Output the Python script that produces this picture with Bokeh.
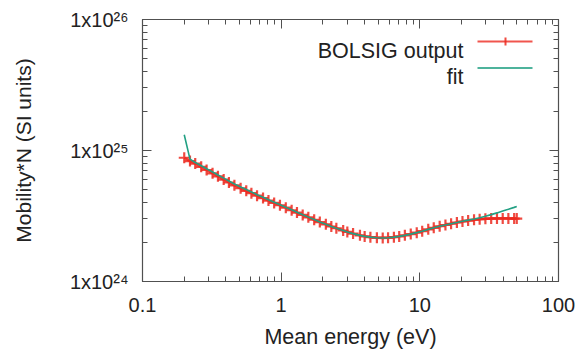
import numpy as np
from bokeh.plotting import figure
from bokeh.models import (Range1d, FixedTicker, LogAxis, CustomJSTickFormatter,
                          Label, BoxAnnotation)
from bokeh.embed import file_html
from bokeh.resources import INLINE

# Mean electron energy (eV)
energy_ev = [0.2, 0.22, 0.24, 0.265, 0.29, 0.32, 0.35, 0.385, 0.42, 0.46,
             0.51, 0.56, 0.61, 0.67, 0.74, 0.81, 0.89, 0.98, 1.08, 1.19,
             1.3, 1.43, 1.57, 1.73, 1.9, 2.1, 2.3, 2.5, 2.8, 3.0,
             3.3, 3.7, 4.0, 4.4, 4.9, 5.4, 5.9, 6.5, 7.1, 7.8,
             8.6, 9.5, 10.4, 11.5, 12.6, 13.9, 15.3, 16.8, 18.5, 20.3,
             22.3, 24.6, 27.0, 29.7, 32.7, 36.0, 39.6, 43.5, 47.9, 50.0]

# Reduced mobility from BOLSIG (units of 1e24, SI)
bolsig_mobility = [8.8, 8.3, 7.95, 7.5, 7.1, 6.7, 6.35, 6.0, 5.7, 5.42,
                   5.15, 4.92, 4.72, 4.52, 4.33, 4.15, 3.98, 3.82, 3.66, 3.5,
                   3.36, 3.22, 3.09, 2.96, 2.84, 2.73, 2.63, 2.55, 2.45, 2.39,
                   2.32, 2.25, 2.21, 2.18, 2.16, 2.15, 2.16, 2.18, 2.21, 2.25,
                   2.3, 2.36, 2.42, 2.5, 2.57, 2.64, 2.7, 2.76, 2.82, 2.87,
                   2.92, 2.96, 2.99, 3.01, 3.02, 3.03, 3.03, 3.03, 3.02, 3.02]

# Fitted mobility at the same energies (units of 1e24, SI)
fit_mobility = [13.2, 8.6, 8.1, 7.65, 7.25, 6.85, 6.5, 6.15, 5.85, 5.55,
                5.27, 5.03, 4.82, 4.6, 4.4, 4.21, 4.03, 3.86, 3.69, 3.53,
                3.38, 3.23, 3.1, 2.97, 2.85, 2.73, 2.63, 2.55, 2.45, 2.39,
                2.32, 2.25, 2.21, 2.18, 2.16, 2.15, 2.16, 2.18, 2.21, 2.25,
                2.3, 2.36, 2.42, 2.5, 2.57, 2.64, 2.7, 2.76, 2.82, 2.88,
                2.94, 3.0, 3.07, 3.15, 3.24, 3.34, 3.45, 3.56, 3.68, 3.74]

UNIT = 1e24
x_ticks = [0.1, 1, 10, 100]
y_ticks = [1e24, 1e25, 1e26]
x_minor = [m * 10.0 ** e for e in (-1, 0, 1) for m in range(2, 10)]
y_minor = [m * 10.0 ** e for e in (24, 25) for m in range(2, 10)]

FONT = "Liberation Sans"
RED = "#ec2a20"
TEAL = "#22a083"
FRAME = "#505050"
TEXT = "#222222"

p = figure(width=580, height=351, x_axis_type="log", y_axis_type="log",
           x_range=Range1d(0.1, 100), y_range=Range1d(1e24, 1e26),
           output_backend="svg", toolbar_location=None,
           min_border_left=142, min_border_right=22,
           min_border_top=19, min_border_bottom=69)
p.background_fill_color = "white"
p.border_fill_color = "white"
p.outline_line_color = FRAME
p.outline_line_width = 1.2
p.xgrid.visible = False
p.ygrid.visible = False

x = np.array(energy_ev)
y_bolsig = np.array(bolsig_mobility) * UNIT
y_fit = np.array(fit_mobility) * UNIT

p.line(x, y_bolsig, line_color=RED, line_width=2.5, line_alpha=0.9)
p.scatter(x, y_bolsig, marker="cross", size=11, line_color=RED, line_width=2.2,
          line_alpha=0.85)
p.line(x, y_fit, line_color=TEAL, line_width=1.6)


def style_axis(ax):
    ax.axis_line_color = FRAME
    ax.major_tick_line_color = FRAME
    ax.minor_tick_line_color = FRAME
    ax.major_tick_in = 9
    ax.major_tick_out = 0
    ax.minor_tick_in = 5
    ax.minor_tick_out = 0
    ax.major_label_text_font = FONT
    ax.major_label_text_font_size = "20px"
    ax.major_label_text_color = TEXT
    ax.axis_label_text_font = FONT
    ax.axis_label_text_font_size = "21.5px"
    ax.axis_label_text_font_style = "normal"
    ax.axis_label_text_color = TEXT


xax = p.xaxis[0]
xax.ticker = FixedTicker(ticks=x_ticks, minor_ticks=x_minor)
xax.formatter = CustomJSTickFormatter(code="return String(tick);")
xax.axis_label = "Mean energy (eV)"
style_axis(xax)
xax.major_label_standoff = 16
xax.axis_label_standoff = 10

yax = p.yaxis[0]
yax.ticker = FixedTicker(ticks=y_ticks, minor_ticks=y_minor)
yax.formatter = CustomJSTickFormatter(code="""
const sup = {"-": "\u207b", "0": "\u2070", "1": "\u00b9", "2": "\u00b2", "3": "\u00b3",
             "4": "\u2074", "5": "\u2075", "6": "\u2076", "7": "\u2077", "8": "\u2078", "9": "\u2079"};
const e = Math.round(Math.log10(tick));
return "1x10" + String(e).split("").map(c => sup[c]).join("");
""")
yax.axis_label = "Mobility*N (SI units)"
style_axis(yax)
yax.axis_label_text_font_size = "21px"
yax.major_label_standoff = 14
yax.axis_label_standoff = 32

# mirrored ticks on the top and right edges
blank = CustomJSTickFormatter(code="return '';")
top = LogAxis(ticker=FixedTicker(ticks=x_ticks, minor_ticks=x_minor), formatter=blank)
right = LogAxis(ticker=FixedTicker(ticks=y_ticks, minor_ticks=y_minor), formatter=blank)
for ax in (top, right):
    style_axis(ax)
    ax.major_label_standoff = 0
    ax.major_label_text_font_size = "1px"
p.add_layout(top, "above")
p.add_layout(right, "right")

# key in the upper right corner: label, then line sample
key_right = 321
key_rows = [("BOLSIG output", RED, 231, 240), ("fit", TEAL, 205, 213.5)]
for text, color, base_y, line_y in key_rows:
    p.add_layout(Label(x=key_right, y=base_y, x_units="screen", y_units="screen",
                       text=text, text_align="right", text_baseline="alphabetic",
                       text_font=FONT, text_font_size="21.5px", text_color=TEXT))
    p.add_layout(BoxAnnotation(left=335, right=390, bottom=line_y - 1, top=line_y + 1,
                               left_units="screen", right_units="screen",
                               bottom_units="screen", top_units="screen",
                               fill_color=color, fill_alpha=0.8, line_color=None))
p.add_layout(BoxAnnotation(left=362, right=364, bottom=236, top=244,
                           left_units="screen", right_units="screen",
                           bottom_units="screen", top_units="screen",
                           fill_color=RED, fill_alpha=0.85, line_color=None))

open("out.html", "w").write(file_html(p, INLINE))
